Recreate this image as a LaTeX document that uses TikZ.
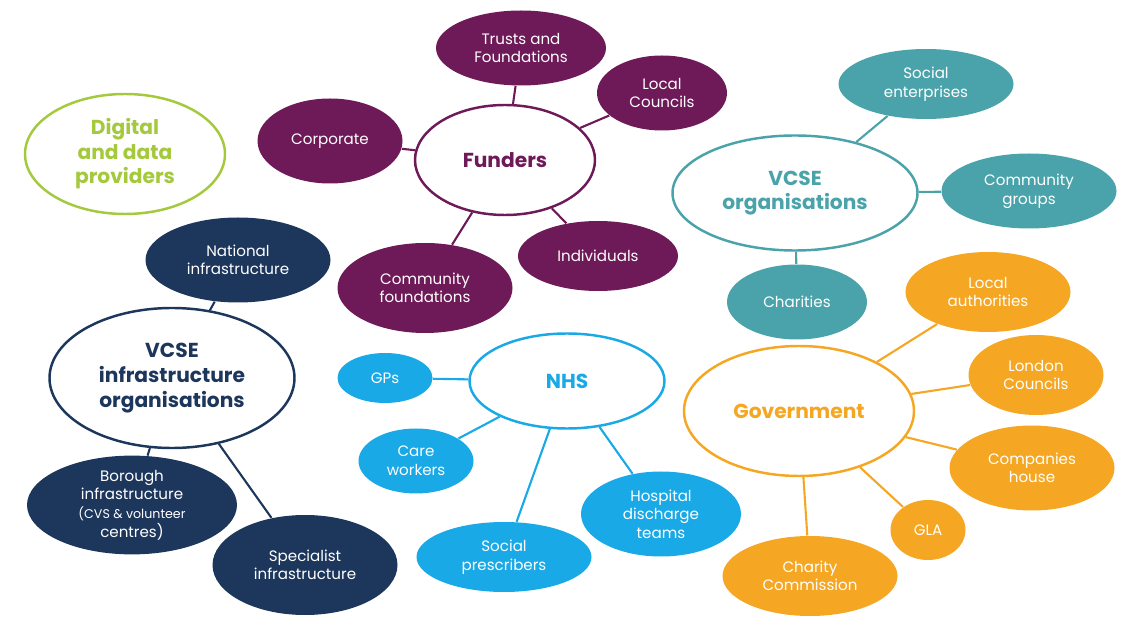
\documentclass[tikz,border=0pt]{standalone}
\usepackage{fontspec}
\setmainfont{Poppins}
\usetikzlibrary{shapes.geometric}
\definecolor{plum}{HTML}{6E1A58}
\definecolor{teal}{HTML}{4AA3AA}
\definecolor{navy}{HTML}{1C365C}
\definecolor{sky}{HTML}{18A9E6}
\definecolor{amber}{HTML}{F5A623}
\definecolor{lime}{HTML}{A5C93D}
\newdimen\pxu \pxu=0.02cm
\begin{document}
\begin{tikzpicture}[x=0.02cm,y=-0.02cm,semithick,font=\fontsize{8.6}{10.6}\selectfont]
 \tikzset{
 	hub/.style={ellipse,draw=#1,line width=1.4pt,fill=white,text=#1,align=center,font=\fontsize{11.5}{14}\selectfont\bfseries,inner sep=0},
 	leaf/.style={ellipse,fill=#1,text=white,align=center,inner sep=0},
 	size/.style args={#1x#2}{minimum width=#1\pxu,minimum height=#2\pxu},
 	link/.style={draw=#1,line width=1.2pt}
 }
 \useasboundingbox (0,0) rectangle (1140,638);

       % funders
       \node[hub=plum,size=180x110] (fund) at (505,160) {Funders};
       \node[leaf=plum,size=170x75] (trusts) at (521,48) {Trusts and\\Foundations};
       \node[leaf=plum,size=130x75] (lcouncils) at (662,93) {Local\\Councils};
       \node[leaf=plum,size=145x85] (corp) at (330,141) {Corporate};
       \node[leaf=plum,size=160x70] (indiv) at (598,256) {Individuals};
       \node[leaf=plum,size=175x90] (cfound) at (425,288) {Community\\foundations};

       % vcse organisations
       \node[hub=teal,size=245x115] (vcse) at (795,193) {VCSE\\organisations};
       \node[leaf=teal,size=175x70] (social) at (926,84) {Social\\enterprises};
       \node[leaf=teal,size=175x75] (cgroups) at (1029,191) {Community\\groups};
       \node[leaf=teal,size=140x75] (charities) at (797,302) {Charities};

       \node[hub=lime,size=200x120] (digital) at (125,154) {Digital\\and data\\providers};

       % infrastructure
       \node[hub=navy,size=245x140] (infra) at (172,378) {VCSE\\infrastructure\\organisations};
       \node[leaf=navy,size=185x85] (national) at (238,260) {National\\infrastructure};
       \node[leaf=navy,size=210x90] (borough) at (132,505) {Borough\\infrastructure\\\fontsize{7.2}{8.5}\selectfont(CVS \& volunteer\\centres)};
       \node[leaf=navy,size=185x100] (special) at (305,565) {Specialist\\infrastructure};

       % nhs
       \node[hub=sky,size=195x95] (nhs) at (567,381) {NHS};
       \node[leaf=sky,size=95x50] (gps) at (385,378) {GPs};
       \node[leaf=sky,size=115x65] (care) at (416,461) {Care\\workers};
       \node[leaf=sky,size=175x70] (prescr) at (504,557) {Social\\prescribers};
       \node[leaf=sky,size=160x85] (hosp) at (661,514) {Hospital\\discharge\\teams};

       % government
       \node[hub=amber,size=230x130] (gov) at (799,411) {Government};
       \node[leaf=amber,size=165x80] (lauth) at (988,292) {Local\\authorities};
       \node[leaf=amber,size=135x80] (london) at (1036,375) {London\\Councils};
       \node[leaf=amber,size=165x85] (comp) at (1032,468) {Companies\\house};
       \node[leaf=amber,size=75x60] (gla) at (928,530) {GLA};
       \node[leaf=amber,size=175x80] (ccomm) at (810,576) {Charity\\Commission};

     \foreach \leafname in {trusts,lcouncils,corp,indiv,cfound}
       \draw[link=plum] (fund) -- (\leafname);
     \foreach \leafname in {social,cgroups,charities}
       \draw[link=teal] (vcse) -- (\leafname);
     \foreach \leafname in {national,borough,special}
       \draw[link=navy] (infra) -- (\leafname);
     \foreach \leafname in {gps,care,prescr,hosp}
       \draw[link=sky] (nhs) -- (\leafname);
     \foreach \leafname in {lauth,london,comp,gla,ccomm}
       \draw[link=amber] (gov) -- (\leafname);
\end{tikzpicture}
\end{document}
